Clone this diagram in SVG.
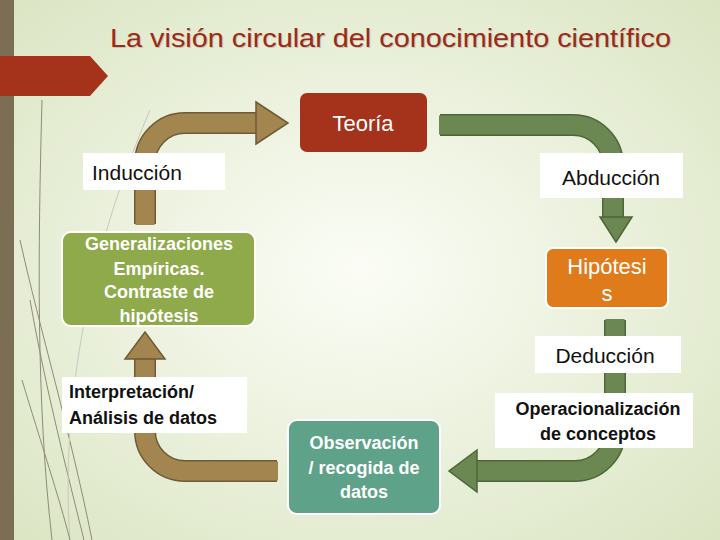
<svg xmlns="http://www.w3.org/2000/svg" width="720" height="540" viewBox="0 0 720 540">
<defs>
<radialGradient id="bg" cx="0.5" cy="0.5" r="0.7">
<stop offset="0" stop-color="#fbfdf6"/><stop offset="1" stop-color="#dbe5c3"/>
</radialGradient>
</defs>
<style>
.t{font-family:"Liberation Sans",Arial,sans-serif}
.lbl{font-size:21px;fill:#111}
.bx{font-size:18px;font-weight:bold;fill:#fff;text-anchor:middle}
.dk{font-size:18px;font-weight:bold;fill:#111}
.wb{fill:#fff}
.brO{fill:none;stroke:#6e5a36;stroke-width:22}
.brI{fill:none;stroke:#a38550;stroke-width:19}
.grO{fill:none;stroke:#4d6639;stroke-width:22}
.grI{fill:none;stroke:#6b8752;stroke-width:19}
.deco{fill:none;stroke:#8f8a7a;stroke-width:1}
</style>
<rect width="720" height="540" fill="url(#bg)"/>
<rect x="0" y="0" width="14" height="540" fill="#7a6e55"/>
<g class="deco">
<path d="M42 100 C38 250 36 400 52 540"/>
<path d="M20 240 C40 330 70 430 92 540"/>
<path d="M30 300 C44 380 64 460 84 540"/>
<path d="M150 110 C90 250 60 400 70 540" stroke="#c8c8bc"/>
<path d="M22 380 C40 440 60 500 70 540"/>
</g>
<polygon points="0,56 90,56 108,76 90,96 0,96" fill="#a5321a"/>
<text class="t" x="111" y="48" font-size="26" fill="#c9c3b0" textLength="561" lengthAdjust="spacingAndGlyphs">La visión circular del conocimiento científico</text>
<text class="t" x="110" y="47" font-size="26" fill="#9b2a17" textLength="561" lengthAdjust="spacingAndGlyphs">La visión circular del conocimiento científico</text>

<g id="connectors">
<path class="brO" d="M145 224 V163 A40 40 0 0 1 185 123 H258"/>
<path class="brI" d="M145 225 V163 A40 40 0 0 1 185 123 H259"/>
<polygon points="256,102 288,123 256,144" fill="#a38550" stroke="#6e5a36" stroke-width="1.5"/>
<path class="grO" d="M440 125 H573 A40 40 0 0 1 613 165 V218"/>
<path class="grI" d="M439 125 H573 A40 40 0 0 1 613 165 V219"/>
<polygon points="600,217 632,217 616,242" fill="#6b8752" stroke="#4d6639" stroke-width="1.5"/>
<path class="grO" d="M615 320 V431 A40 40 0 0 1 575 471 H476"/>
<path class="grI" d="M615 319 V431 A40 40 0 0 1 575 471 H475"/>
<polygon points="477,450 449,471 477,492" fill="#6b8752" stroke="#4d6639" stroke-width="1.5"/>
<path class="brO" d="M277 471 H185 A40 40 0 0 1 145 431 V358"/>
<path class="brI" d="M278 471 H185 A40 40 0 0 1 145 431 V357"/>
<polygon points="125,359 145,332 165,359" fill="#a38550" stroke="#6e5a36" stroke-width="1.5"/>
</g>

<g id="teoria"><rect x="300" y="93" width="127" height="59" rx="7" fill="#a5321a"/>
<text class="t" x="363" y="131" font-size="22" fill="#fff" text-anchor="middle">Teoría</text></g>
<g id="induccion"><rect class="wb" x="83" y="153" width="142" height="37"/>
<text class="t lbl" x="92" y="180">Inducción</text></g>
<g id="abduccion"><rect class="wb" x="540" y="153" width="143" height="45"/>
<text class="t lbl" x="611" y="185" text-anchor="middle">Abducción</text></g>
<g id="generalizaciones"><rect x="62" y="232" width="193" height="94" rx="9" fill="#8faa4a" stroke="#fff" stroke-width="2"/>
<text class="t bx" x="159" y="250">Generalizaciones</text>
<text class="t bx" x="159" y="275">Empíricas.</text>
<text class="t bx" x="159" y="298">Contraste de</text>
<text class="t bx" x="159" y="322">hipótesis</text></g>
<g id="hipotesis"><rect x="546" y="248" width="122" height="60" rx="7" fill="#e07b1c" stroke="#fff" stroke-width="2"/>
<text class="t" x="607" y="274" font-size="22" fill="#fff" text-anchor="middle">Hipótesi</text>
<text class="t" x="607" y="301" font-size="22" fill="#fff" text-anchor="middle">s</text></g>
<g id="deduccion"><rect class="wb" x="535" y="336" width="146" height="37"/>
<text class="t lbl" x="605" y="363" text-anchor="middle">Deducción</text></g>
<g id="interpretacion"><rect class="wb" x="62" y="377" width="185" height="56"/>
<text class="t dk" x="69" y="398">Interpretación/</text>
<text class="t dk" x="69" y="424">Análisis de datos</text></g>
<g id="operacionalizacion"><rect class="wb" x="495" y="393" width="198" height="55"/>
<text class="t dk" x="598" y="415" text-anchor="middle">Operacionalización</text>
<text class="t dk" x="598" y="440" text-anchor="middle">de conceptos</text></g>
<g id="observacion"><rect x="288" y="420" width="152" height="94" rx="9" fill="#5fa28a" stroke="#fff" stroke-width="2"/>
<text class="t bx" x="364" y="449">Observación</text>
<text class="t bx" x="364" y="474">/ recogida de</text>
<text class="t bx" x="364" y="498">datos</text></g>
</svg>
